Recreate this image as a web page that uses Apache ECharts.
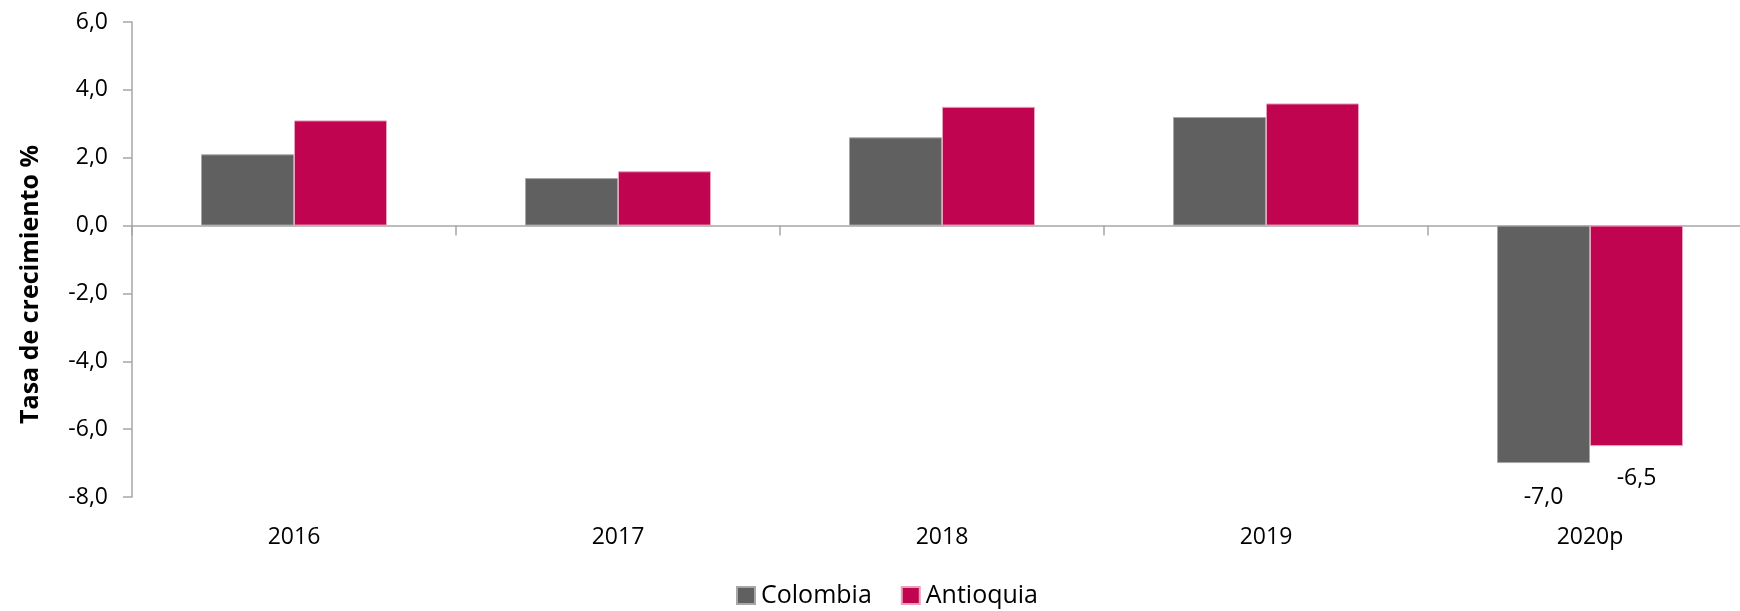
<!DOCTYPE html>
<html>
<head>
<meta charset="utf-8">
<script src="https://cdn.jsdelivr.net/npm/echarts@6/dist/echarts.min.js"></script>
<style>html,body{margin:0;padding:0;background:#fff;}#c{width:1740px;height:611px;}</style>
</head>
<body>
<div id="c"></div>
<script>
var categories = ['2016', '2017', '2018', '2019', '2020p'];
var colombia = [2.1, 1.4, 2.6, 3.2, -7.0];
var antioquia = [3.1, 1.6, 3.5, 3.6, -6.5];
var labelledIndex = 4;
var yTicks = { min: -8, max: 6, interval: 2 };

function fmt(v) { return Number(v).toFixed(1).replace('.', ','); }
function withLabels(arr) {
  return arr.map(function (v, i) {
    return i === labelledIndex ? { value: v, label: { show: true } } : v;
  });
}
var FONT = '"Open Sans", "Noto Sans", sans-serif';
var FS = 23;
var chart = echarts.init(document.getElementById('c'));
chart.setOption({
  animation: false,
  textStyle: { fontFamily: FONT },
  grid: { left: 132, top: 22, width: 1620, bottom: 114, containLabel: false, outerBoundsMode: 'none' },
  legend: {
    top: 578, left: 731,
    itemWidth: 18, itemHeight: 17, itemGap: 29, icon: 'rect',
    textStyle: { fontFamily: FONT, fontSize: 25, color: '#000', padding: [0, 0, 0, 1] },
    data: ['Colombia', 'Antioquia']
  },
  xAxis: [{
    type: 'category', data: categories,
    axisLine: { onZero: true, lineStyle: { color: '#a6a6a6', width: 1.5 } },
    axisTick: { show: true, length: 10, lineStyle: { color: '#a6a6a6', width: 1.5 } },
    axisLabel: { show: false }
  }, {
    type: 'category', data: categories, position: 'bottom',
    axisLine: { show: false, onZero: false }, axisTick: { show: false },
    axisLabel: { fontFamily: FONT, fontSize: FS, color: '#000', margin: 29 }
  }],
  yAxis: {
    type: 'value', min: yTicks.min, max: yTicks.max, interval: yTicks.interval,
    name: 'Tasa de crecimiento %', nameLocation: 'middle', nameGap: 89,
    nameTextStyle: { fontFamily: FONT, fontSize: 25, fontWeight: 'bold', color: '#000', padding: [0, 50, 0, 0] },
    axisLine: { show: true, lineStyle: { color: '#a6a6a6', width: 1.5 } },
    axisTick: { show: true, length: 9, lineStyle: { color: '#a6a6a6', width: 1.5 } },
    splitLine: { show: false },
    axisLabel: { fontFamily: FONT, fontSize: FS, color: '#000', margin: 24, formatter: fmt }
  },
  series: [{
    name: 'Colombia', type: 'bar', data: withLabels(colombia),
    barWidth: 93, barGap: '0%',
    itemStyle: { color: '#606060', borderColor: '#a8a8a8', borderWidth: 1 },
    label: { show: false, position: 'bottom', distance: 23, fontFamily: FONT, fontSize: FS, color: '#000', formatter: function (p) { return fmt(p.value); } }
  }, {
    name: 'Antioquia', type: 'bar', data: withLabels(antioquia),
    barWidth: 93,
    itemStyle: { color: '#C0044F', borderColor: '#e8a0bc', borderWidth: 1 },
    label: { show: false, position: 'bottom', distance: 21, fontFamily: FONT, fontSize: FS, color: '#000', formatter: function (p) { return fmt(p.value); } }
  }]
});
</script>
</body>
</html>
